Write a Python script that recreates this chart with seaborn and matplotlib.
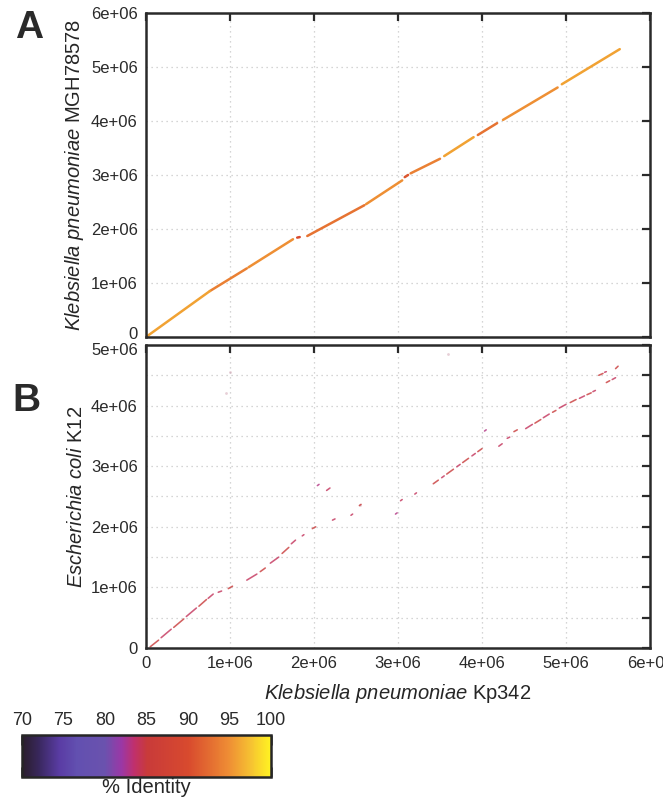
import numpy as np
import pandas as pd
import matplotlib
matplotlib.use("Agg")
import matplotlib.pyplot as plt
import seaborn as sns
from matplotlib.colors import LinearSegmentedColormap, Normalize
from matplotlib.cm import ScalarMappable
from matplotlib.transforms import ScaledTranslation

# --- data (positions in bp, identity in %) ---
# panel A: K. pneumoniae Kp342 vs K. pneumoniae MGH78578
a_x0 = [0.00e6, 0.76e6, 1.22e6, 1.80e6, 1.92e6, 2.62e6, 3.08e6, 3.15e6, 3.55e6, 3.95e6, 4.25e6, 4.95e6]
a_x1 = [0.76e6, 1.20e6, 1.75e6, 1.83e6, 2.60e6, 3.05e6, 3.12e6, 3.50e6, 3.90e6, 4.18e6, 4.90e6, 5.64e6]
a_y0 = [0.00e6, 0.85e6, 1.29e6, 1.84e6, 1.87e6, 2.46e6, 2.96e6, 3.03e6, 3.35e6, 3.74e6, 4.02e6, 4.68e6]
a_y1 = [0.85e6, 1.27e6, 1.81e6, 1.85e6, 2.44e6, 2.90e6, 3.00e6, 3.30e6, 3.70e6, 3.96e6, 4.62e6, 5.33e6]
a_pid = [96, 94, 95, 90, 93, 95, 91, 94, 96, 93, 95, 96]

# panel B: K. pneumoniae Kp342 vs E. coli K12 (Mb)
b_x0 = [0.05, 0.18, 0.33, 0.48, 0.63, 0.74, 0.86, 0.98, 1.20, 1.36, 1.48, 1.62, 1.73,
        1.86, 1.98, 2.22, 2.44, 2.54, 2.15, 2.04, 2.97, 3.03, 3.20, 3.42, 3.52, 3.58,
        3.70, 3.77, 3.88, 3.95, 4.03, 4.20, 4.30, 4.38, 4.52, 4.63, 4.73, 4.84, 4.92,
        5.05, 5.16, 5.25, 5.32, 5.48, 5.55, 5.39, 5.46, 5.59]
b_x1 = [0.15, 0.30, 0.45, 0.60, 0.72, 0.80, 0.90, 1.03, 1.32, 1.42, 1.58, 1.70, 1.78,
        1.88, 2.02, 2.25, 2.46, 2.56, 2.19, 2.06, 2.99, 3.05, 3.22, 3.48, 3.55, 3.66,
        3.74, 3.84, 3.92, 4.00, 4.05, 4.24, 4.33, 4.42, 4.60, 4.70, 4.80, 4.88, 5.00,
        5.12, 5.22, 5.30, 5.35, 5.52, 5.59, 5.44, 5.48, 5.62]
b_y0 = [0.02, 0.17, 0.34, 0.52, 0.69, 0.82, 0.92, 0.98, 1.12, 1.26, 1.40, 1.56, 1.72,
        1.85, 1.97, 2.11, 2.19, 2.35, 2.60, 2.68, 2.21, 2.43, 2.54, 2.71, 2.81, 2.87,
        2.99, 3.06, 3.17, 3.24, 3.58, 3.33, 3.46, 3.57, 3.62, 3.71, 3.80, 3.89, 3.96,
        4.05, 4.12, 4.18, 4.23, 4.38, 4.43, 4.50, 4.55, 4.61]
b_y1 = [0.13, 0.31, 0.48, 0.66, 0.80, 0.89, 0.94, 1.02, 1.22, 1.32, 1.50, 1.66, 1.78,
        1.87, 2.00, 2.13, 2.21, 2.37, 2.64, 2.70, 2.23, 2.45, 2.56, 2.77, 2.84, 2.95,
        3.03, 3.13, 3.21, 3.29, 3.60, 3.37, 3.48, 3.60, 3.69, 3.77, 3.86, 3.92, 4.02,
        4.10, 4.16, 4.21, 4.25, 4.41, 4.46, 4.53, 4.56, 4.65]
b_pid = [85, 84, 85, 84, 85, 84, 84, 85, 84, 85, 84, 85, 84, 84, 85, 84, 84, 85,
         84, 83, 83, 84, 84, 85, 84, 85, 84, 85, 84, 85, 83, 84, 84, 85, 84, 85,
         84, 85, 84, 85, 84, 85, 84, 85, 84, 85, 84, 85]

# faint stray hits (Mb)
b_dot_x = [1.00, 2.55, 0.95, 3.60]
b_dot_y = [4.55, 2.36, 4.20, 4.85]

x_ticks = [0, 1e6, 2e6, 3e6, 4e6, 5e6, 6e6]
x_tick_labels = ["0", "1e+06", "2e+06", "3e+06", "4e+06", "5e+06", "6e+06"]
a_y_ticks = [0, 1e6, 2e6, 3e6, 4e6, 5e6, 6e6]
a_y_tick_labels = ["0", "1e+06", "2e+06", "3e+06", "4e+06", "5e+06", "6e+06"]
b_y_ticks = [0, 1e6, 2e6, 3e6, 4e6, 5e6]
b_y_tick_labels = ["0", "1e+06", "2e+06", "3e+06", "4e+06", "5e+06"]
b_y_minor = [0.5e6, 1.5e6, 2.5e6, 3.5e6, 4.5e6]
cbar_ticks = [70, 75, 80, 85, 90, 95, 100]

# colour scale of the identity bar
cmap = LinearSegmentedColormap.from_list("ident", [
    (0.00, "#2a1e2c"), (0.07, "#3a2860"), (0.15, "#5a3ca4"), (0.22, "#6250b0"),
    (0.33, "#6a52ae"), (0.40, "#9a38a6"), (0.45, "#c0306c"), (0.50, "#c83a3a"),
    (0.67, "#d84a2e"), (0.83, "#ee8c34"), (0.92, "#f6c232"), (1.00, "#fff222")])
norm = Normalize(70, 100)


def seg_frame(x0, x1, y0, y1, pid, scale=1.0):
    rows = []
    for i in range(len(x0)):
        rows.append((i, x0[i] * scale, y0[i] * scale, pid[i]))
        rows.append((i, x1[i] * scale, y1[i] * scale, pid[i]))
    return pd.DataFrame(rows, columns=["seg", "x", "y", "pid"])


sns.set_style("white")
plt.rcParams["font.family"] = ["Liberation Sans", "DejaVu Sans"]
plt.rcParams["mathtext.fontset"] = "custom"
plt.rcParams["mathtext.rm"] = "Liberation Sans"
plt.rcParams["mathtext.it"] = "Liberation Sans:italic"
tick_font = ["Liberation Sans Narrow", "Liberation Sans", "DejaVu Sans"]

fig = plt.figure(figsize=(6.63, 8.01), dpi=100)
axA = fig.add_axes([0.2202, 0.5793, 0.7602, 0.4045])
axB = fig.add_axes([0.2202, 0.1910, 0.7602, 0.3783])

dfA = seg_frame(a_x0, a_x1, a_y0, a_y1, a_pid)
dfB = seg_frame(b_x0, b_x1, b_y0, b_y1, b_pid, scale=1e6)

sns.lineplot(data=dfA, x="x", y="y", units="seg", estimator=None, hue="pid",
             hue_norm=norm, palette=cmap, legend=False, sort=False,
             linewidth=1.8, ax=axA)
sns.lineplot(data=dfB, x="x", y="y", units="seg", estimator=None, hue="pid",
             hue_norm=norm, palette=cmap, legend=False, sort=False,
             linewidth=1.15, alpha=0.8, ax=axB)
sns.scatterplot(x=np.array(b_dot_x) * 1e6, y=np.array(b_dot_y) * 1e6,
                color="#d0a0b0", s=4, alpha=0.5, linewidth=0, ax=axB)

for ax in (axA, axB):
    ax.set_xlim(0, 6e6)
    for s in ax.spines.values():
        s.set_linewidth(1.8)
        s.set_color("#2a2a2a")
    ax.tick_params(direction="in", length=6, width=1.6, colors="#2a2a2a",
                   top=True, right=True, labelsize=12, pad=6)
    ax.set_xticks(x_ticks)
    ax.grid(True, which="both", linestyle=(0, (1, 3)), color="#c8c8c8", linewidth=0.9)
    ax.set_axisbelow(True)

axA.set_ylim(0, 6e6)
axA.set_yticks(a_y_ticks)
axA.set_yticklabels(a_y_tick_labels, family=tick_font)
axA.set_xticklabels([])
axA.set_xlabel("")
axA.set_ylabel(r"$\it{Klebsiella\ pneumoniae}$ MGH78578", fontsize=14.5)

axB.set_ylim(0, 5e6)
axB.set_yticks(b_y_ticks)
axB.set_yticklabels(b_y_tick_labels, family=tick_font)
axB.set_yticks(b_y_minor, minor=True)
axB.tick_params(axis="y", which="minor", direction="in", length=6, width=1.6,
                left=False, right=True, colors="#2a2a2a")
axB.set_xticklabels(x_tick_labels, family=tick_font)
axB.set_xlabel(r"$\it{Klebsiella\ pneumoniae}$ Kp342", fontsize=14.5, labelpad=8)
axB.set_ylabel(r"$\it{Escherichia\ coli}$ K12", fontsize=14.5)
axA.yaxis.set_label_coords(-0.12, 0.5)
axB.yaxis.set_label_coords(-0.12, 0.5)

# keep the "0" of A and the "5e+06" of B apart like the original
fig.canvas.draw()
lab0 = axA.get_yticklabels()[0]
lab0.set_transform(lab0.get_transform() + ScaledTranslation(0, 3 / 72, fig.dpi_scale_trans))
labtop = axB.get_yticklabels()[-1]
labtop.set_transform(labtop.get_transform() + ScaledTranslation(0, -3 / 72, fig.dpi_scale_trans))

fig.text(0.044, 0.965, "A", fontsize=28, fontweight="bold", color="#2a2a2a",
         ha="center", va="center")
fig.text(0.040, 0.499, "B", fontsize=28, fontweight="bold", color="#2a2a2a",
         ha="center", va="center")

cax = fig.add_axes([0.0332, 0.0300, 0.3756, 0.0524])
cb = fig.colorbar(ScalarMappable(norm=norm, cmap=cmap), cax=cax, orientation="horizontal")
cb.outline.set_linewidth(1.8)
cb.set_ticks(cbar_ticks)
cb.set_ticklabels([str(t) for t in cbar_ticks], family=tick_font)
cax.xaxis.set_ticks_position("both")
cax.tick_params(direction="in", length=7, width=1.8, colors="#2a2a2a",
                labeltop=True, labelbottom=False, labelsize=13, pad=4)
cax.xaxis.set_label_position("bottom")
cax.set_xlabel("% Identity", fontsize=14.5, labelpad=1)

fig.savefig("out.png", dpi=100)
